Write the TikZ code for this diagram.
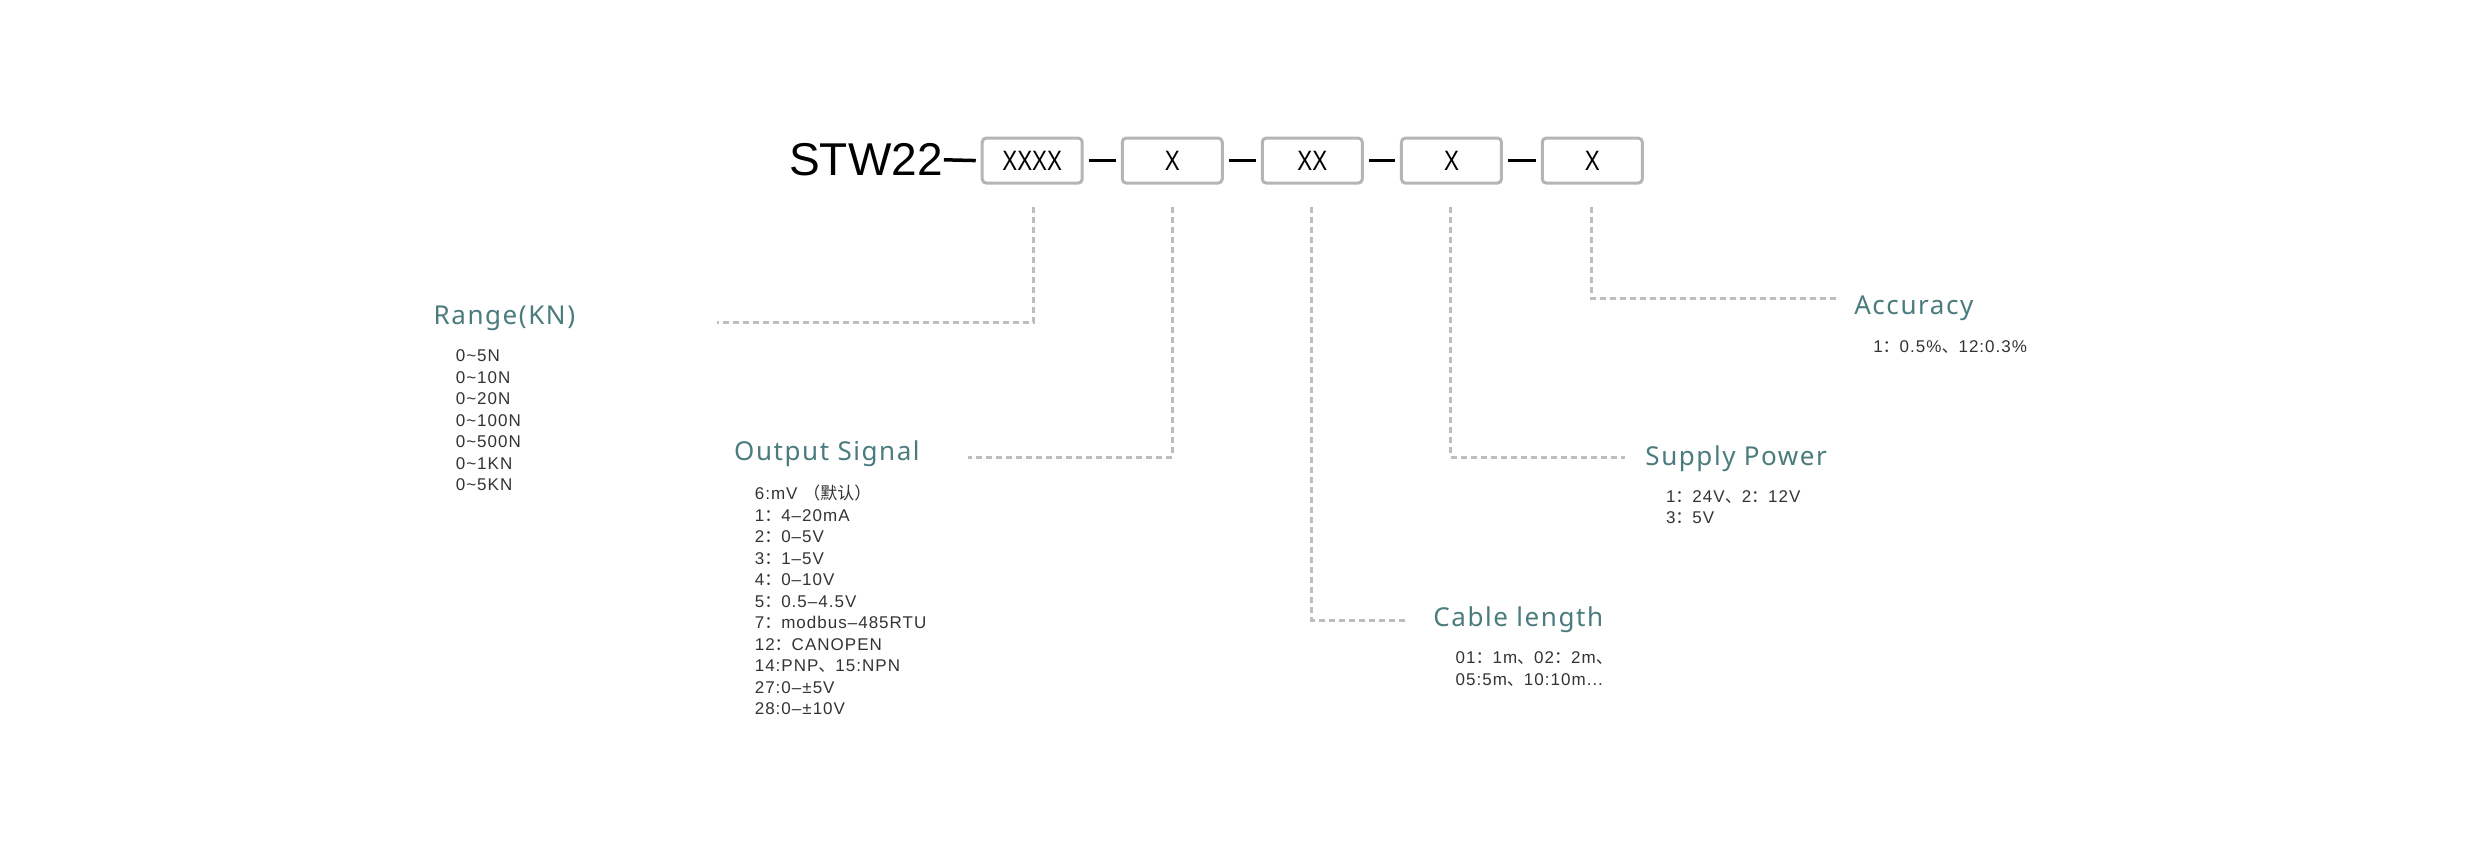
\documentclass[tikz,border=0pt]{standalone}
\usepackage{fontspec}
\setmainfont{Liberation Sans}
\newfontfamily\titlefont{Noto Sans}
\newfontfamily\cjk{Noto Sans CJK SC}
\definecolor{teal1}{HTML}{4A7B7D}
\definecolor{dgray}{HTML}{BDBDBD}
\definecolor{bgray}{HTML}{B5B5B5}
\begin{document}
\begin{tikzpicture}[x=1.582pt,y=-1.582pt,
  box/.style={draw=bgray,line width=3pt,rounded corners=4pt,minimum width=100pt,minimum height=45pt,inner sep=0pt,font=\fontsize{28}{30}\selectfont\addfontfeatures{FakeStretch=0.8}},
  lead/.style={dgray,line width=3pt,dash pattern=on 6pt off 4pt},
  title/.style={anchor=west,text=teal1,inner sep=0pt,font=\titlefont\fontsize{26}{28}\selectfont\addfontfeatures{LetterSpace=6}},
  list/.style={anchor=north west,align=left,inner sep=0pt,text=black!80,font=\fontsize{17}{21.5}\selectfont\addfontfeatures{LetterSpace=6}},
  joiner/.style={line width=3.5pt,black}]
\useasboundingbox (0,0) rectangle (1568.3,543);
\node[anchor=east,inner sep=0pt,font=\fontsize{46}{48}\selectfont] (stw) at (596,101) {STW22};
\node[box] (b1) at (652.5,101.5) {XXXX};
\node[box] (b2) at (741,101.5) {X};
\node[box] (b3) at (829.5,101.5) {XX};
\node[box] (b4) at (917.5,101.5) {X};
\node[box] (b5) at (1006.5,101.5) {X};
\draw[joiner] ([xshift=1pt]stw.east) -- ([xshift=-5pt]b1.west);
\draw[joiner] ([xshift=5pt]b1.east) -- ([xshift=-5pt]b2.west);
\draw[joiner] ([xshift=5pt]b2.east) -- ([xshift=-5pt]b3.west);
\draw[joiner] ([xshift=5pt]b3.east) -- ([xshift=-5pt]b4.west);
\draw[joiner] ([xshift=5pt]b4.east) -- ([xshift=-5pt]b5.west);
\coordinate (s1) at (653,131); \coordinate (e1) at (453,204);
\coordinate (s2) at (741,131); \coordinate (e2) at (612,289);
\coordinate (s3) at (829,131); \coordinate (e3) at (888,392);
\coordinate (s4) at (917,131); \coordinate (e4) at (1027,289);
\coordinate (s5) at (1006,131); \coordinate (e5) at (1162,189);
\draw[lead] (s1) |- (e1);
\draw[lead] (s2) |- (e2);
\draw[lead] (s3) |- (e3);
\draw[lead] (s4) |- (e4);
\draw[lead] (s5) |- (e5);
\node[title] (t1) at (274,201) {Range(KN)};
\node[title] (t2) at (464,287) {Output Signal};
\node[title] (t3) at (906,392) {Cable length};
\node[title] (t4) at (1040,290) {Supply Power};
\node[title] (t5) at (1172,195) {Accuracy};
\node[list] (l1) at (288,221) {0\textasciitilde5N\\0\textasciitilde10N\\0\textasciitilde20N\\0\textasciitilde100N\\0\textasciitilde500N\\0\textasciitilde1KN\\0\textasciitilde5KN};
\node[list] (l2) at (477,306.5) {6:mV {\cjk（默认）}\\1{\cjk：}4--20mA\\2{\cjk：}0--5V\\3{\cjk：}1--5V\\4{\cjk：}0--10V\\5{\cjk：}0.5--4.5V\\7{\cjk：}modbus--485RTU\\12{\cjk：}CANOPEN\\14:PNP{\cjk、}15:NPN\\27:0--\textpm5V\\28:0--\textpm10V};
\node[list] (l3) at (920,412) {01{\cjk：}1m{\cjk、}02{\cjk：}2m{\cjk、}\\05:5m{\cjk、}10:10m...};
\node[list] (l4) at (1053,310) {1{\cjk：}24V{\cjk、}2{\cjk：}12V\\3{\cjk：}5V};
\node[list] (l5) at (1184,215) {1{\cjk：}0.5\%{\cjk、}12:0.3\%};
\end{tikzpicture}
\end{document}
